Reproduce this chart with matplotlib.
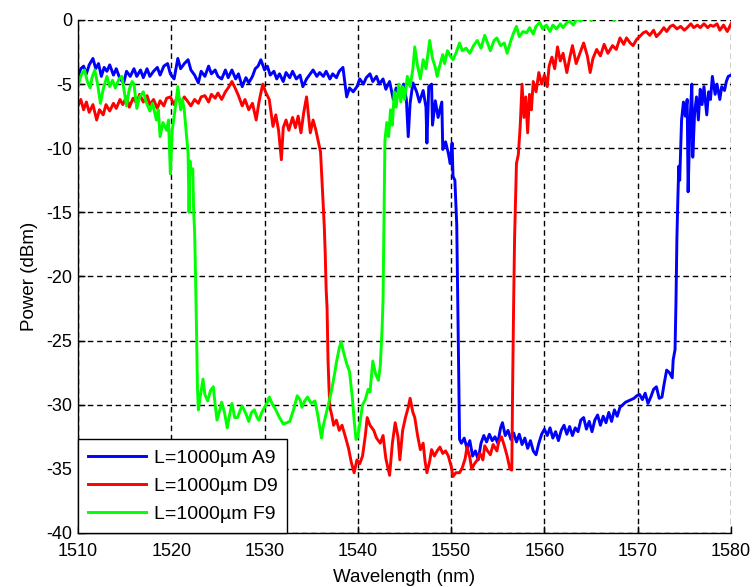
import matplotlib
matplotlib.use("Agg")
import matplotlib.pyplot as plt
import numpy as np

# L=1000um A9 (blue)
wl_a9 = [
    1510.0, 1510.3, 1510.6, 1510.9, 1511.2, 1511.6, 1511.9, 1512.2, 1512.5, 1512.8,
    1513.1, 1513.4, 1513.8, 1514.1, 1514.5, 1514.9, 1515.2, 1515.6, 1516.0, 1516.3,
    1516.7, 1517.0, 1517.4, 1517.7, 1518.1, 1518.5, 1518.8, 1519.2, 1519.6, 1519.9,
    1520.3, 1520.7, 1521.0, 1521.4, 1521.8, 1522.1, 1522.5, 1522.9, 1523.2, 1523.6,
    1524.0, 1524.3, 1524.7, 1525.0, 1525.4, 1525.8, 1526.1, 1526.5, 1526.9, 1527.2,
    1527.6, 1528.0, 1528.3, 1528.7, 1529.0, 1529.3, 1529.6, 1530.0, 1530.3, 1530.6,
    1531.0, 1531.3, 1531.6, 1532.0, 1532.3, 1532.7, 1533.0, 1533.4, 1533.8, 1534.1,
    1534.5, 1534.8, 1535.2, 1535.6, 1535.9, 1536.3, 1536.6, 1537.0, 1537.3, 1537.7,
    1538.0, 1538.4, 1538.8, 1539.1, 1539.5, 1539.9, 1540.2, 1540.6, 1540.9, 1541.3,
    1541.6, 1542.0, 1542.3, 1542.7, 1543.0, 1543.4, 1543.8, 1544.1, 1544.5, 1544.9,
    1545.2, 1545.4, 1545.6, 1545.9, 1546.3, 1546.6, 1547.0, 1547.3, 1547.4, 1547.6,
    1547.9, 1548.0, 1548.3, 1548.6, 1549.0, 1549.1, 1549.4, 1549.7, 1549.9, 1550.1,
    1550.2, 1550.4, 1550.6, 1550.7, 1550.8, 1550.9, 1551.1, 1551.4, 1551.7, 1552.0,
    1552.3, 1552.6, 1552.9, 1553.2, 1553.5, 1553.8, 1554.1, 1554.4, 1554.7, 1555.0,
    1555.3, 1555.5, 1555.8, 1556.1, 1556.4, 1556.7, 1557.0, 1557.3, 1557.6, 1557.9,
    1558.2, 1558.5, 1558.8, 1559.1, 1559.4, 1559.7, 1560.0, 1560.3, 1560.6, 1560.9,
    1561.2, 1561.5, 1561.8, 1562.1, 1562.4, 1562.7, 1563.0, 1563.3, 1563.6, 1563.9,
    1564.2, 1564.5, 1564.8, 1565.1, 1565.4, 1565.7, 1566.0, 1566.3, 1566.6, 1566.9,
    1567.2, 1567.5, 1567.8, 1568.1, 1568.4, 1568.7, 1569.0, 1569.3, 1569.6, 1569.9,
    1570.2, 1570.5, 1570.8, 1571.1, 1571.4, 1571.7, 1572.0, 1572.3, 1572.6, 1572.8,
    1573.1, 1573.4, 1573.7, 1573.8, 1574.0, 1574.1, 1574.2, 1574.3, 1574.4, 1574.5,
    1574.7, 1574.9, 1575.1, 1575.3, 1575.4, 1575.6, 1575.8, 1575.9, 1576.1, 1576.3,
    1576.5, 1576.7, 1576.9, 1577.1, 1577.4, 1577.6, 1577.8, 1578.0, 1578.3, 1578.5,
    1578.8, 1579.0, 1579.3, 1579.5, 1579.7, 1580.0,
]
pw_a9 = [
    -4.4, -3.8, -3.6, -4.2, -3.5, -3.0, -3.8, -3.4, -4.4, -3.7,
    -4.0, -3.5, -4.3, -3.8, -4.6, -4.9, -4.0, -4.4, -3.8, -4.4,
    -3.9, -4.5, -3.8, -4.4, -4.0, -3.7, -4.3, -3.6, -3.4, -4.2,
    -4.6, -3.0, -3.8, -3.4, -3.1, -3.9, -4.3, -4.9, -4.0, -4.4,
    -3.6, -4.2, -3.9, -4.4, -4.6, -3.9, -4.5, -3.9, -4.6, -4.2,
    -5.2, -4.5, -4.9, -4.4, -3.8, -3.6, -3.1, -3.9, -3.6, -4.3,
    -4.0, -4.6, -4.2, -4.8, -4.1, -4.5, -4.0, -4.6, -4.3, -5.2,
    -4.6, -4.3, -3.9, -4.4, -4.1, -4.4, -4.0, -4.6, -4.2, -4.5,
    -4.0, -3.7, -6.0, -5.3, -5.6, -5.2, -4.6, -5.0, -4.5, -4.2,
    -4.8, -4.4, -5.0, -4.6, -5.4, -4.8, -6.2, -5.3, -5.8, -5.0,
    -6.2, -9.1, -6.5, -4.9, -5.6, -6.4, -5.5, -6.8, -9.6, -5.2,
    -5.0, -8.2, -6.3, -7.6, -6.4, -10.1, -9.5, -10.4, -11.2, -9.6,
    -12.2, -12.5, -16.0, -21.3, -27.0, -32.7, -33.0, -32.6, -33.4, -32.8,
    -34.0, -33.6, -34.3, -33.0, -32.4, -32.9, -32.3, -32.8, -32.5, -33.0,
    -31.8, -31.4, -32.4, -32.0, -32.7, -32.2, -32.9, -32.3, -33.1, -32.6,
    -33.4, -32.8, -33.6, -33.9, -33.0, -32.3, -31.9, -32.4, -31.8, -32.6,
    -32.1, -32.8, -32.0, -31.6, -32.3, -31.7, -32.4, -31.8, -32.1, -31.2,
    -31.0, -31.9, -31.3, -32.1, -31.2, -30.8, -31.6, -30.9, -31.4, -30.6,
    -31.3, -30.4, -30.9, -30.2, -30.0, -29.8, -29.7, -29.6, -29.5, -29.3,
    -29.2, -29.6, -29.1, -29.9, -29.4, -28.8, -28.6, -29.5, -29.4, -28.5,
    -27.3, -27.5, -27.9, -26.5, -25.7, -22.0, -17.0, -14.0, -11.4, -12.5,
    -7.8, -6.4, -7.5, -6.2, -13.4, -8.0, -5.0, -10.7, -7.2, -6.0,
    -7.8, -5.4, -6.6, -5.2, -7.4, -5.6, -6.2, -4.4, -5.8, -5.0,
    -6.2, -5.2, -5.5, -4.8, -4.4, -4.3,
]

# L=1000um D9 (red)
wl_d9 = [
    1510.0, 1510.3, 1510.6, 1510.9, 1511.2, 1511.6, 1512.0, 1512.3, 1512.7, 1513.0,
    1513.4, 1513.8, 1514.1, 1514.5, 1514.8, 1515.2, 1515.5, 1515.9, 1516.3, 1516.6,
    1517.0, 1517.4, 1517.7, 1518.1, 1518.5, 1518.8, 1519.2, 1519.5, 1519.9, 1520.3,
    1520.7, 1521.0, 1521.4, 1521.8, 1522.1, 1522.5, 1522.9, 1523.2, 1523.6, 1524.0,
    1524.3, 1524.7, 1525.0, 1525.4, 1525.8, 1526.1, 1526.5, 1526.9, 1527.2, 1527.6,
    1527.9, 1528.3, 1528.7, 1529.1, 1529.4, 1529.8, 1530.1, 1530.5, 1530.9, 1531.2,
    1531.5, 1531.8, 1532.0, 1532.3, 1532.6, 1533.0, 1533.3, 1533.6, 1533.9, 1534.2,
    1534.5, 1534.9, 1535.2, 1535.5, 1535.8, 1536.0, 1536.2, 1536.4, 1536.5, 1536.6,
    1536.7, 1536.8, 1536.9, 1537.0, 1537.2, 1537.4, 1537.7, 1538.0, 1538.3, 1538.7,
    1539.0, 1539.3, 1539.6, 1539.9, 1540.2, 1540.5, 1540.8, 1541.0, 1541.3, 1541.7,
    1542.0, 1542.4, 1542.7, 1543.0, 1543.4, 1543.7, 1544.0, 1544.3, 1544.5, 1544.8,
    1545.1, 1545.4, 1545.6, 1545.9, 1546.1, 1546.4, 1546.7, 1547.0, 1547.2, 1547.4,
    1547.7, 1547.9, 1548.2, 1548.5, 1548.8, 1549.1, 1549.4, 1549.7, 1550.0, 1550.2,
    1550.5, 1550.9, 1551.2, 1551.5, 1551.7, 1552.0, 1552.2, 1552.5, 1552.8, 1553.1,
    1553.4, 1553.6, 1553.9, 1554.2, 1554.5, 1554.9, 1555.1, 1555.4, 1555.7, 1556.0,
    1556.3, 1556.5, 1556.6, 1556.7, 1556.8, 1556.9, 1557.0, 1557.2, 1557.4, 1557.6,
    1557.8, 1558.0, 1558.2, 1558.4, 1558.6, 1558.8, 1559.1, 1559.4, 1559.7, 1560.0,
    1560.3, 1560.5, 1560.8, 1561.1, 1561.4, 1561.7, 1562.0, 1562.4, 1562.7, 1563.0,
    1563.4, 1563.8, 1564.2, 1564.6, 1564.9, 1565.2, 1565.6, 1566.0, 1566.4, 1566.8,
    1567.3, 1567.7, 1568.1, 1568.5, 1568.8, 1569.2, 1569.5, 1569.9, 1570.2, 1570.6,
    1570.9, 1571.3, 1571.7, 1572.0, 1572.4, 1572.8, 1573.1, 1573.5, 1573.8, 1574.2,
    1574.6, 1575.0, 1575.3, 1575.7, 1576.0, 1576.4, 1576.7, 1577.1, 1577.5, 1577.8,
    1578.1, 1578.5, 1578.8, 1579.2, 1579.6, 1580.0,
]
pw_d9 = [
    -6.7, -6.2, -7.0, -6.4, -7.2, -6.6, -7.8, -7.0, -7.4, -6.6,
    -7.1, -6.5, -6.9, -6.2, -6.6, -6.0, -6.8, -6.1, -6.5, -5.8,
    -6.4, -5.9, -6.6, -6.2, -6.9, -6.3, -6.7, -6.1, -6.0, -6.6,
    -5.9, -6.5, -6.0, -6.4, -6.7, -6.2, -6.5, -6.0, -5.9, -6.4,
    -5.8, -6.1, -5.7, -6.2, -5.6, -5.3, -4.8, -5.4, -5.9, -6.7,
    -6.2, -7.0, -6.5, -7.8, -6.4, -5.0, -5.6, -6.2, -8.3, -7.4,
    -8.6, -10.9, -8.4, -7.8, -8.6, -7.6, -8.4, -7.5, -8.8, -7.2,
    -6.0, -8.8, -7.8, -8.6, -9.6, -10.3, -13.2, -16.1, -18.2, -21.0,
    -22.5, -26.5, -28.6, -30.2, -30.8, -31.6, -31.2, -32.0, -31.6, -32.6,
    -33.4, -34.5, -35.3, -34.3, -34.6, -34.0, -32.4, -31.0, -31.6, -32.0,
    -32.6, -33.0, -32.4, -34.2, -35.5, -33.0, -31.4, -32.5, -34.3, -32.0,
    -31.0, -30.2, -29.5, -30.6, -31.0, -32.4, -33.5, -33.0, -34.4, -35.3,
    -34.4, -33.5, -34.0, -33.6, -33.3, -33.8, -33.6, -34.0, -34.8, -35.6,
    -35.3, -35.3, -34.9, -34.2, -33.3, -34.1, -35.0, -34.6, -34.3, -33.8,
    -34.3, -33.2, -33.6, -33.9, -33.1, -33.6, -32.9, -32.5, -33.2, -34.0,
    -35.0, -35.1, -28.0, -22.0, -17.0, -14.0, -11.2, -10.5, -8.3, -5.0,
    -7.6, -6.0, -8.8, -5.8, -7.0, -4.8, -5.6, -4.1, -5.0, -4.3,
    -5.2, -3.6, -2.9, -3.8, -2.1, -3.2, -2.6, -4.1, -3.0, -2.0,
    -3.4, -2.6, -1.8, -2.8, -4.1, -3.0, -2.3, -2.8, -1.9, -2.6,
    -2.0, -2.3, -1.4, -1.9, -1.4, -1.8, -2.0, -1.5, -1.3, -1.0,
    -0.9, -1.2, -0.8, -1.3, -1.0, -0.6, -0.9, -0.5, -0.4, -0.7,
    -0.5, -0.8, -0.6, -0.3, -0.6, -0.4, -0.6, -0.3, -0.6, -0.4,
    -0.5, -0.3, -0.8, -0.4, -0.9, -0.3,
]

# L=1000um F9 (green)
wl_f9 = [
    1510.0, 1510.2, 1510.4, 1510.7, 1511.0, 1511.3, 1511.5, 1511.8, 1512.1, 1512.4,
    1512.7, 1513.1, 1513.4, 1513.7, 1514.0, 1514.4, 1514.7, 1515.0, 1515.2, 1515.5,
    1515.8, 1516.0, 1516.3, 1516.6, 1517.0, 1517.3, 1517.7, 1518.0, 1518.4, 1518.6,
    1518.8, 1519.1, 1519.5, 1519.7, 1519.9, 1520.1, 1520.4, 1520.7, 1520.9, 1521.0,
    1521.2, 1521.4, 1521.6, 1521.8, 1521.9, 1522.0, 1522.1, 1522.3, 1522.4, 1522.5,
    1522.6, 1522.7, 1522.8, 1522.9, 1523.1, 1523.4, 1523.6, 1523.9, 1524.2, 1524.5,
    1524.7, 1524.9, 1525.2, 1525.4, 1525.7, 1526.0, 1526.3, 1526.5, 1526.8, 1527.1,
    1527.4, 1527.6, 1528.0, 1528.3, 1528.6, 1528.9, 1529.2, 1529.4, 1529.7, 1530.0,
    1530.3, 1530.5, 1530.8, 1531.2, 1531.6, 1532.0, 1532.4, 1532.7, 1533.1, 1533.5,
    1533.8, 1534.0, 1534.3, 1534.6, 1535.0, 1535.4, 1535.7, 1536.1, 1536.3, 1536.6,
    1536.9, 1537.2, 1537.5, 1537.7, 1538.0, 1538.2, 1538.5, 1538.8, 1539.1, 1539.4,
    1539.6, 1539.8, 1540.0, 1540.2, 1540.5, 1540.8, 1541.1, 1541.3, 1541.6, 1541.9,
    1542.2, 1542.4, 1542.6, 1542.7, 1542.8, 1542.9, 1543.1, 1543.3, 1543.5, 1543.7,
    1543.9, 1544.1, 1544.4, 1544.6, 1544.8, 1545.0, 1545.3, 1545.6, 1545.9, 1546.1,
    1546.4, 1546.7, 1547.0, 1547.3, 1547.7, 1548.0, 1548.3, 1548.5, 1548.8, 1549.1,
    1549.3, 1549.6, 1549.9, 1550.2, 1550.5, 1550.9, 1551.2, 1551.6, 1552.0, 1552.4,
    1552.8, 1553.2, 1553.6, 1553.9, 1554.2, 1554.6, 1554.9, 1555.3, 1555.7, 1556.0,
    1556.4, 1556.7, 1557.0, 1557.3, 1557.7, 1558.1, 1558.4, 1558.8, 1559.1, 1559.5,
    1559.8, 1560.2, 1560.6, 1560.9, 1561.3, 1561.7, 1562.0, 1562.4, 1562.7, 1563.1,
    1563.5, 1563.9, 1564.2, 1564.6, 1565.0, 1565.5, 1566.0, 1566.5, 1567.0, 1567.5,
    1568.0, 1569.0, 1570.0, 1572.0, 1574.0, 1576.0, 1578.0, 1580.0,
]
pw_f9 = [
    -5.2, -4.6, -4.2, -3.9, -4.8, -5.3, -4.5, -3.9, -5.0, -6.5,
    -5.4, -4.4, -5.2, -4.7, -5.3, -4.6, -4.4, -5.8, -6.7, -5.4,
    -4.8, -5.0, -6.9, -6.0, -5.6, -6.4, -7.1, -6.5, -7.8, -7.0,
    -9.1, -8.0, -8.6, -7.8, -12.0, -8.6, -7.0, -5.2, -6.4, -7.0,
    -6.2, -7.1, -8.8, -10.4, -15.0, -11.0, -12.0, -11.6, -15.0, -16.5,
    -20.0, -24.0, -28.6, -30.4, -29.4, -28.0, -29.2, -29.7, -28.9, -28.6,
    -30.0, -31.2, -30.4, -29.8, -30.6, -31.8, -30.6, -29.9, -31.0, -31.0,
    -30.4, -30.1, -30.7, -31.3, -30.6, -30.4, -31.0, -31.2, -30.6, -30.2,
    -29.8, -29.4, -29.9, -30.4, -31.0, -31.5, -31.4, -31.3, -30.4, -29.3,
    -29.6, -30.2, -29.7, -29.4, -29.9, -29.7, -30.8, -32.6, -31.6, -30.7,
    -29.8, -28.8, -27.6, -26.7, -25.6, -25.1, -26.0, -26.8, -27.4, -29.4,
    -31.2, -32.7, -32.5, -31.5, -30.0, -29.6, -28.8, -29.0, -26.6, -27.6,
    -28.1, -27.0, -24.0, -21.8, -15.3, -9.4, -8.0, -9.1, -7.0, -8.2,
    -5.6, -6.8, -5.0, -6.4, -5.2, -6.2, -4.4, -5.2, -3.8, -2.1,
    -3.6, -4.6, -3.1, -3.8, -1.6, -3.0, -3.7, -4.4, -3.5, -2.7,
    -3.4, -2.4, -2.8, -3.1, -2.6, -1.8, -2.4, -2.2, -2.6, -2.0,
    -1.6, -2.2, -1.2, -1.8, -2.4, -1.6, -1.4, -2.0, -1.8, -2.6,
    -1.6, -1.0, -0.5, -1.3, -0.9, -1.0, -0.6, -1.1, -0.5, -0.2,
    -0.7, -0.4, -0.9, -0.4, -0.7, -0.3, -0.6, -0.2, -0.1, -0.4,
    0.1, -0.1, 0.2, 0.4, -0.05, 0.5, 0.3, 0.7, 0.4, -0.05,
    0.6, 0.8, 0.6, 1.0, 0.8, 1.2, 1.0, 1.3,
]

labels = ["L=1000\u00b5m A9", "L=1000\u00b5m D9", "L=1000\u00b5m F9"]
x_ticks = np.arange(1510, 1581, 10)
y_ticks = np.arange(-40, 1, 5)

plt.rcParams["font.family"] = ["Liberation Sans", "DejaVu Sans"]
plt.rcParams["axes.unicode_minus"] = False

fig = plt.figure(figsize=(7.53, 5.87), dpi=100)
ax = fig.add_axes([0.1036, 0.092, 0.8672, 0.874])

ax.plot(wl_a9, pw_a9, color=(0, 0, 1), linewidth=2.1, label=labels[0])
ax.plot(wl_d9, pw_d9, color=(1, 0, 0), linewidth=2.1, label=labels[1])
ax.plot(wl_f9, pw_f9, color=(0, 1, 0), linewidth=2.1, label=labels[2])

ax.set_xlim(1510, 1580)
ax.set_ylim(-40, 0)
ax.set_xticks(x_ticks)
ax.set_yticks(y_ticks)
ax.grid(True, color="k", linestyle=(0, (4, 2.7)), linewidth=1.0)
ax.set_axisbelow(True)

for side in ("top", "right"):
    ax.spines[side].set_visible(False)
for side in ("left", "bottom"):
    ax.spines[side].set_linewidth(1.0)
ax.tick_params(direction="in", length=5, width=1, labelsize=13)
ax.tick_params(axis="x", pad=7)
ax.tick_params(axis="y", pad=4)

ax.set_xlabel("Wavelength (nm)", fontsize=13.5, labelpad=7)
ax.set_ylabel("Power (dBm)", fontsize=13.5, labelpad=6)

leg = ax.legend(loc="lower left", fontsize=14, fancybox=False, framealpha=1,
                edgecolor="k", borderaxespad=0, handlelength=3.0,
                labelspacing=0.55, borderpad=0.5, handletextpad=0.4)
leg.get_frame().set_linewidth(1.0)

fig.savefig("out.png", dpi=100)
